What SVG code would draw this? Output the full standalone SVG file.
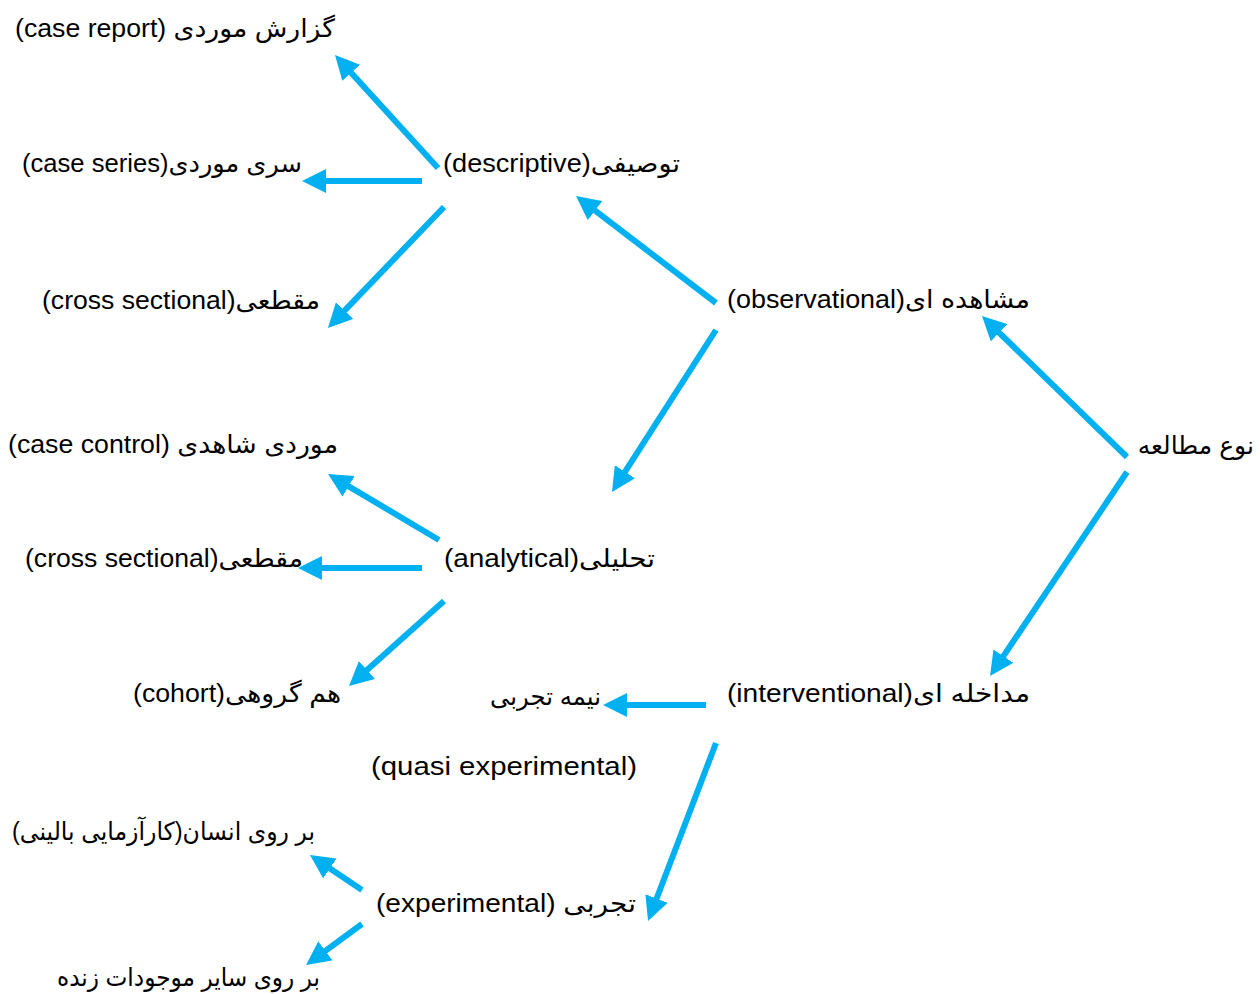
<svg xmlns="http://www.w3.org/2000/svg" width="1260" height="994" viewBox="0 0 1260 994">
<style>
text{font-family:"Liberation Sans","DejaVu Sans",sans-serif;font-size:25px;fill:#000;text-anchor:middle}
.c line{stroke:#00B0F0;stroke-width:6;marker-end:url(#ah)}
</style>
<defs>
<marker id="ah" markerUnits="userSpaceOnUse" viewBox="0 0 24 24" markerWidth="24" markerHeight="24" refX="16" refY="12" orient="auto">
<path d="M0,0 L24,12 L0,24 z" fill="#00B0F0"/>
</marker>
</defs>
<rect width="1260" height="994" fill="#fff"/>
<g id="n-case-report"><text x="175" y="37" textLength="320" lengthAdjust="spacingAndGlyphs">(case report)  گزارش موردی</text></g>
<g id="n-case-series"><text x="162" y="172" textLength="280" lengthAdjust="spacingAndGlyphs">(case series)سری موردی</text></g>
<g id="n-cross1"><text x="181" y="309" textLength="278" lengthAdjust="spacingAndGlyphs">(cross sectional)مقطعی</text></g>
<g id="n-descriptive"><text x="561.5" y="172" textLength="237" lengthAdjust="spacingAndGlyphs">(descriptive)توصیفی</text></g>
<g id="n-observational"><text x="878.5" y="308" textLength="303" lengthAdjust="spacingAndGlyphs">(observational)مشاهده ای</text></g>
<g id="n-study-type"><text x="1254" y="454" font-size="19" style="text-anchor:end">نوع مطالعه</text></g>
<g id="n-case-control"><text x="173" y="453" textLength="330" lengthAdjust="spacingAndGlyphs">(case control) موردی شاهدی</text></g>
<g id="n-analytical"><text x="549.5" y="567" textLength="211" lengthAdjust="spacingAndGlyphs">(analytical)تحلیلی</text></g>
<g id="n-cross2"><text x="164" y="567" textLength="278" lengthAdjust="spacingAndGlyphs">(cross sectional)مقطعی</text></g>
<g id="n-cohort"><text x="237" y="702" textLength="208" lengthAdjust="spacingAndGlyphs">(cohort)هم گروهی</text></g>
<g id="n-interventional"><text x="878.5" y="702" textLength="303" lengthAdjust="spacingAndGlyphs">(interventional)مداخله ای</text></g>
<g id="n-quasi">
<text x="545.5" y="705" textLength="111" lengthAdjust="spacingAndGlyphs">نیمه تجربی</text>
<text x="504" y="775" textLength="266" lengthAdjust="spacingAndGlyphs">(quasi experimental)</text>
</g>
<g id="n-human"><text x="163.5" y="840" direction="rtl" textLength="303" lengthAdjust="spacingAndGlyphs">بر روی انسان(کارآزمایی بالینی)</text></g>
<g id="n-experimental"><text x="506" y="912" textLength="260" lengthAdjust="spacingAndGlyphs">(experimental) تجربی</text></g>
<g id="n-other"><text x="188.5" y="986" textLength="263" lengthAdjust="spacingAndGlyphs">بر روی سایر موجودات زنده</text></g>
<g id="connectors" class="c">
<line x1="438" y1="168" x2="340.4" y2="60.9"/>
<line x1="422" y1="181" x2="310" y2="181"/>
<line x1="444" y1="207" x2="333.5" y2="322.2"/>
<line x1="716" y1="303" x2="582.4" y2="200.9"/>
<line x1="716" y1="330" x2="616.3" y2="485.3"/>
<line x1="1127" y1="457" x2="987.7" y2="321.6"/>
<line x1="1127" y1="472" x2="994.5" y2="669.4"/>
<line x1="439" y1="540" x2="334.9" y2="478.1"/>
<line x1="422" y1="568" x2="306" y2="568"/>
<line x1="444" y1="601" x2="355" y2="680.7"/>
<line x1="706" y1="705" x2="611" y2="705"/>
<line x1="716" y1="743" x2="650.9" y2="913.5"/>
<line x1="362" y1="890" x2="316.6" y2="859.5"/>
<line x1="362" y1="924" x2="312.5" y2="960.3"/>
</g>
</svg>
